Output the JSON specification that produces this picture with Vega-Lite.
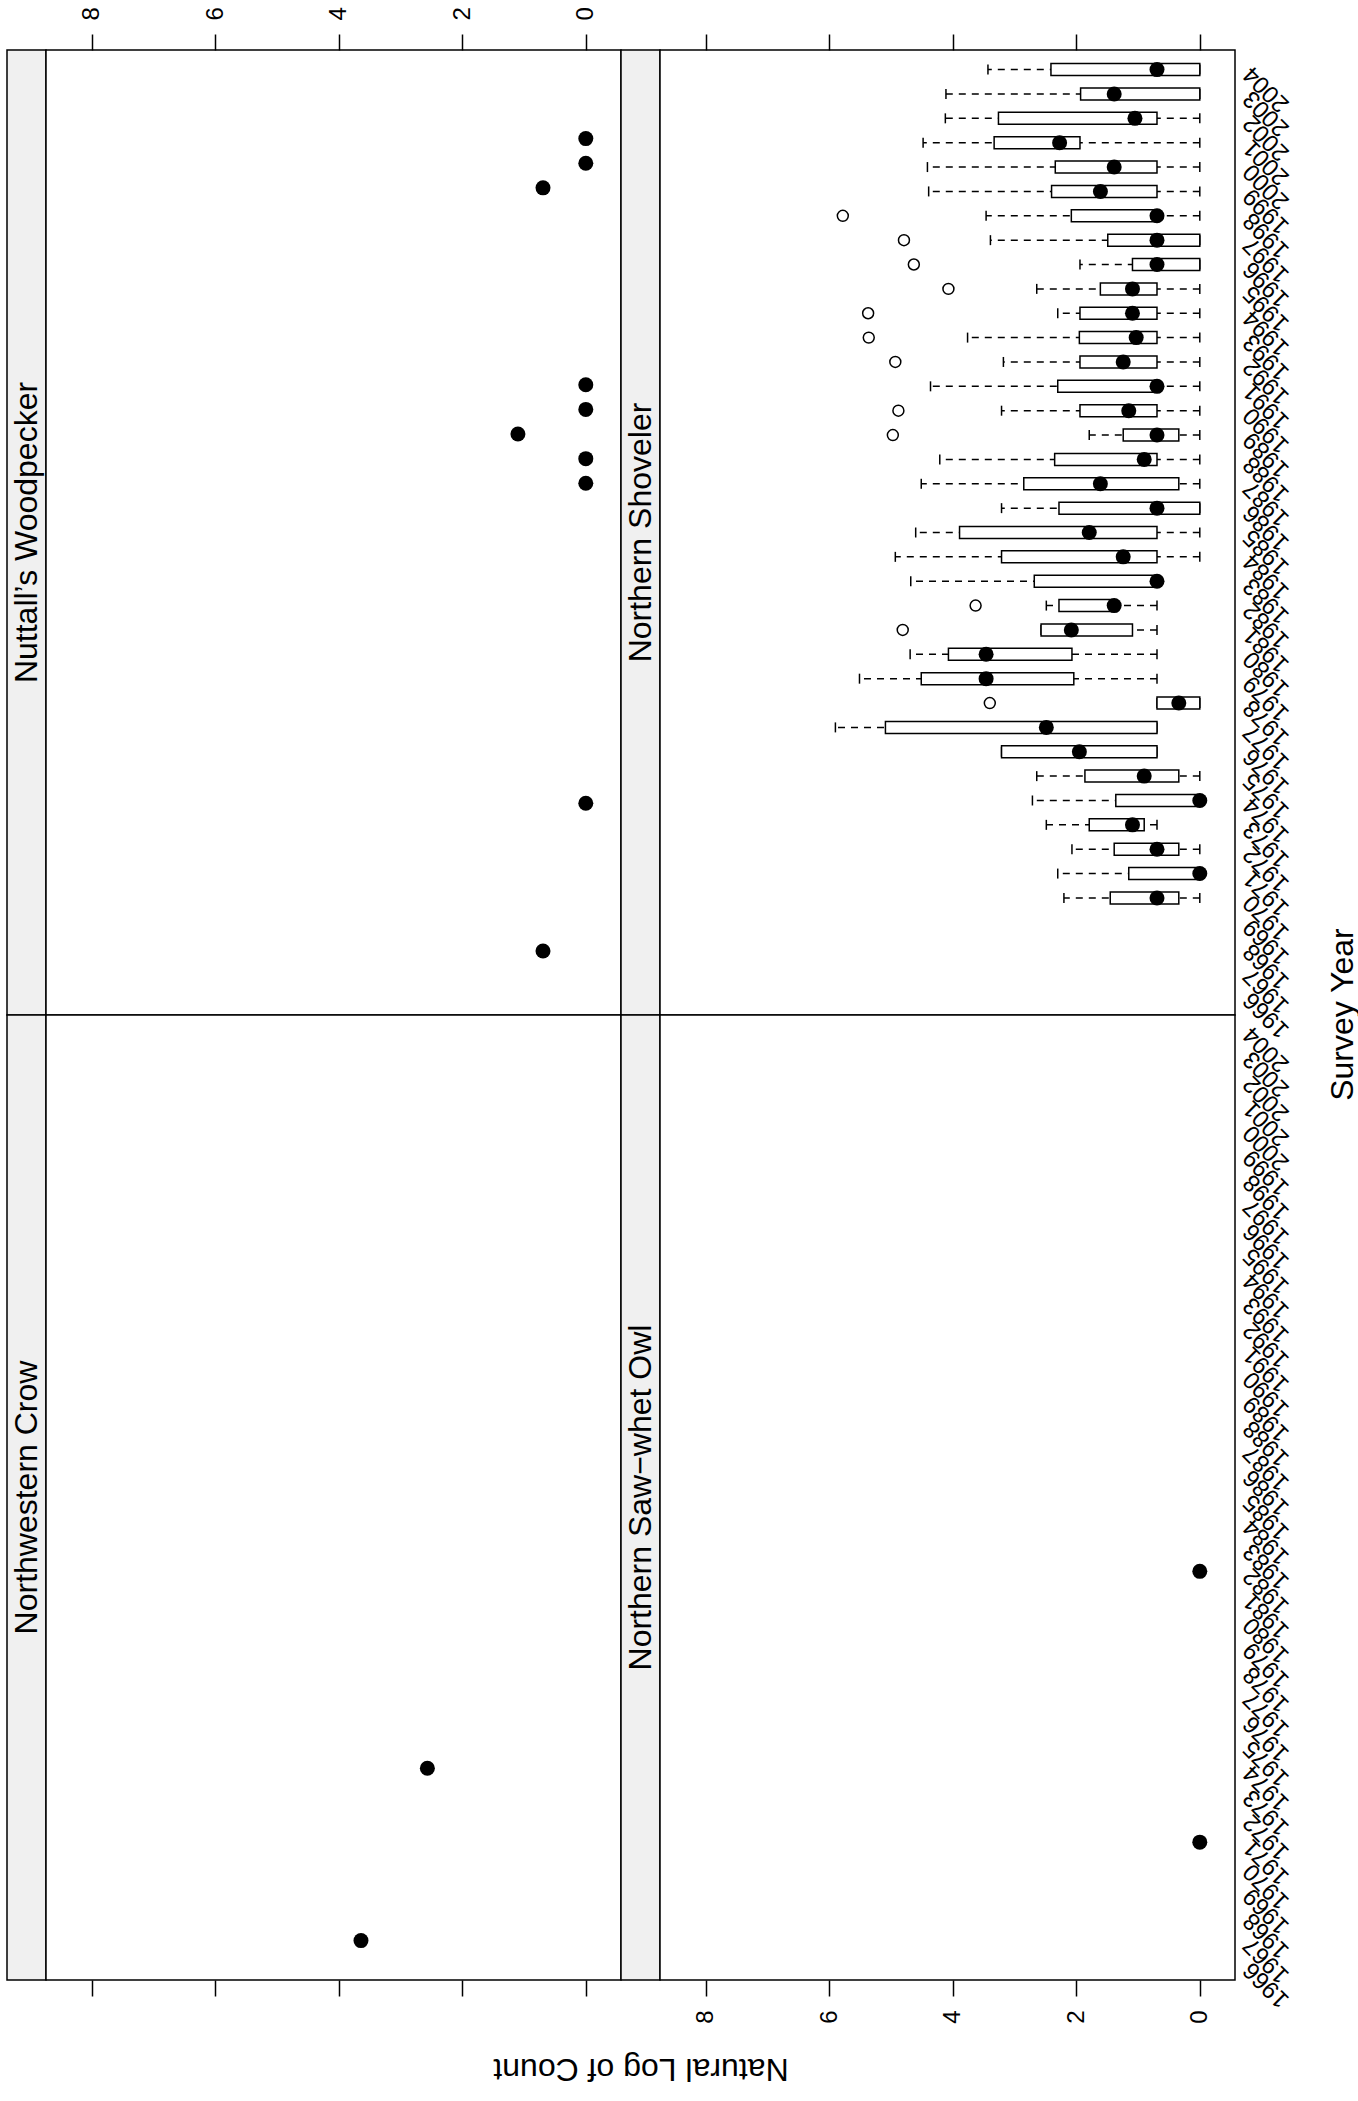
{
  "$schema": "https://vega.github.io/schema/vega-lite/v6.json",
  "padding": {"left": 6, "top": 5, "right": 0, "bottom": 14},
  "background": "white",
  "config": {
    "font": "Liberation Sans",
    "view": {"stroke": "black", "strokeWidth": 1.5, "fill": "white"},
    "axis": {"grid": false, "domain": false, "tickColor": "black", "tickWidth": 1.5, "labelColor": "black", "titleColor": "black", "labelFont": "Liberation Sans", "titleFont": "Liberation Sans", "labelFontSize": 24, "titleFontSize": 32, "titleFontWeight": "normal"}
  },
  "datasets": {
    "strips": [
      {"species": "Nuttall’s Woodpecker", "pos": "top-left"},
      {"species": "Northwestern Crow", "pos": "bottom-left"},
      {"species": "Northern Shoveler", "pos": "top-right"},
      {"species": "Northern Saw−whet Owl", "pos": "bottom-right"}
    ],
    "nuttall": [
      {"year": 2001, "logcount": 0}, {"year": 2000, "logcount": 0}, {"year": 1999, "logcount": 0.693},
      {"year": 1991, "logcount": 0}, {"year": 1990, "logcount": 0}, {"year": 1989, "logcount": 1.099},
      {"year": 1988, "logcount": 0}, {"year": 1987, "logcount": 0}, {"year": 1974, "logcount": 0},
      {"year": 1968, "logcount": 0.693}
    ],
    "crow": [
      {"year": 1967, "logcount": 3.64}, {"year": 1974, "logcount": 2.565}
    ],
    "owl": [
      {"year": 1982, "logcount": 0}, {"year": 1971, "logcount": 0}
    ],
    "shoveler": [
      {"year": 2004, "lo": 0, "q1": 0, "med": 0.693, "q3": 2.41, "hi": 3.43},
      {"year": 2003, "lo": 0, "q1": 0, "med": 1.386, "q3": 1.93, "hi": 4.11},
      {"year": 2002, "lo": 0, "q1": 0.693, "med": 1.05, "q3": 3.26, "hi": 4.12},
      {"year": 2001, "lo": 0, "q1": 1.94, "med": 2.27, "q3": 3.33, "hi": 4.48},
      {"year": 2000, "lo": 0, "q1": 0.693, "med": 1.386, "q3": 2.34, "hi": 4.41},
      {"year": 1999, "lo": 0, "q1": 0.693, "med": 1.609, "q3": 2.40, "hi": 4.39},
      {"year": 1998, "lo": 0, "q1": 0.693, "med": 0.693, "q3": 2.08, "hi": 3.46},
      {"year": 1997, "lo": 0, "q1": 0, "med": 0.693, "q3": 1.49, "hi": 3.39},
      {"year": 1996, "lo": 0, "q1": 0, "med": 0.693, "q3": 1.09, "hi": 1.94},
      {"year": 1995, "lo": 0, "q1": 0.693, "med": 1.09, "q3": 1.61, "hi": 2.64},
      {"year": 1994, "lo": 0, "q1": 0.693, "med": 1.09, "q3": 1.94, "hi": 2.30},
      {"year": 1993, "lo": 0, "q1": 0.693, "med": 1.03, "q3": 1.95, "hi": 3.76},
      {"year": 1992, "lo": 0, "q1": 0.693, "med": 1.24, "q3": 1.94, "hi": 3.18},
      {"year": 1991, "lo": 0, "q1": 0.693, "med": 0.693, "q3": 2.30, "hi": 4.36},
      {"year": 1990, "lo": 0, "q1": 0.693, "med": 1.15, "q3": 1.94, "hi": 3.21},
      {"year": 1989, "lo": 0, "q1": 0.34, "med": 0.693, "q3": 1.24, "hi": 1.79},
      {"year": 1988, "lo": 0, "q1": 0.693, "med": 0.90, "q3": 2.35, "hi": 4.21},
      {"year": 1987, "lo": 0, "q1": 0.34, "med": 1.61, "q3": 2.85, "hi": 4.51},
      {"year": 1986, "lo": 0, "q1": 0, "med": 0.693, "q3": 2.28, "hi": 3.21},
      {"year": 1985, "lo": 0, "q1": 0.693, "med": 1.79, "q3": 3.89, "hi": 4.60},
      {"year": 1984, "lo": 0, "q1": 0.693, "med": 1.24, "q3": 3.21, "hi": 4.93},
      {"year": 1983, "lo": 0.693, "q1": 0.693, "med": 0.693, "q3": 2.68, "hi": 4.68},
      {"year": 1982, "lo": 0.693, "q1": 1.386, "med": 1.386, "q3": 2.28, "hi": 2.485},
      {"year": 1981, "lo": 0.693, "q1": 1.09, "med": 2.08, "q3": 2.57, "hi": 2.57},
      {"year": 1980, "lo": 0.693, "q1": 2.07, "med": 3.46, "q3": 4.07, "hi": 4.69},
      {"year": 1979, "lo": 0.693, "q1": 2.04, "med": 3.46, "q3": 4.51, "hi": 5.51},
      {"year": 1978, "lo": 0, "q1": 0, "med": 0.34, "q3": 0.693, "hi": 0.693},
      {"year": 1977, "lo": 0.693, "q1": 0.693, "med": 2.485, "q3": 5.09, "hi": 5.90},
      {"year": 1976, "lo": 0.693, "q1": 0.693, "med": 1.95, "q3": 3.21, "hi": 3.21},
      {"year": 1975, "lo": 0, "q1": 0.34, "med": 0.90, "q3": 1.86, "hi": 2.64},
      {"year": 1974, "lo": 0, "q1": 0, "med": 0, "q3": 1.36, "hi": 2.71},
      {"year": 1973, "lo": 0.693, "q1": 0.90, "med": 1.09, "q3": 1.79, "hi": 2.485},
      {"year": 1972, "lo": 0, "q1": 0.34, "med": 0.693, "q3": 1.386, "hi": 2.07},
      {"year": 1971, "lo": 0, "q1": 0, "med": 0, "q3": 1.15, "hi": 2.30},
      {"year": 1970, "lo": 0, "q1": 0.34, "med": 0.693, "q3": 1.45, "hi": 2.20}
    ],
    "outliers": [
      {"year": 1998, "logcount": 5.78}, {"year": 1997, "logcount": 4.79}, {"year": 1996, "logcount": 4.63},
      {"year": 1995, "logcount": 4.07}, {"year": 1994, "logcount": 5.37}, {"year": 1993, "logcount": 5.36},
      {"year": 1992, "logcount": 4.93}, {"year": 1990, "logcount": 4.88}, {"year": 1989, "logcount": 4.97},
      {"year": 1982, "logcount": 3.63}, {"year": 1981, "logcount": 4.81}, {"year": 1978, "logcount": 3.40}
    ]
  },
  "columns": 4,
  "bounds": "flush",
  "align": "each",
  "spacing": 0,
  "concat": [
    {
      "width": 39, "height": 965,
      "view": {"fill": "#f0f0f0", "stroke": "black", "strokeWidth": 1.5},
      "data": {"name": "strips"},
      "transform": [{"filter": "datum.pos == 'top-left'"}],
      "mark": {"type": "text", "angle": 270, "fontSize": 32, "font": "Liberation Sans", "baseline": "middle", "align": "center", "color": "black"},
      "encoding": {"text": {"field": "species"}}
    },
    {
      "width": 575, "height": 965,
      "data": {"name": "nuttall"},
      "mark": {"type": "point", "shape": "circle", "filled": true, "color": "black", "size": 225, "opacity": 1},
      "encoding": {
        "x": {"field": "logcount", "type": "quantitative", "scale": {"domain": [-0.57, 8.74], "reverse": true, "nice": false, "zero": false},
              "axis": {"orient": "top", "values": [0, 2, 4, 6, 8], "labelAngle": -90, "labelAlign": "left", "labelBaseline": "middle", "tickSize": 16, "labelPadding": 14, "title": null}},
        "y": {"field": "year", "type": "quantitative", "scale": {"domain": [1965.4, 2004.6], "nice": false, "zero": false}, "axis": null}
      }
    },
    {
      "width": 39, "height": 965,
      "view": {"fill": "#f0f0f0", "stroke": "black", "strokeWidth": 1.5},
      "data": {"name": "strips"},
      "transform": [{"filter": "datum.pos == 'top-right'"}],
      "mark": {"type": "text", "angle": 270, "fontSize": 32, "font": "Liberation Sans", "baseline": "middle", "align": "center", "color": "black"},
      "encoding": {"text": {"field": "species"}}
    },
    {
      "width": 575, "height": 965,
      "encoding": {
        "y": {"field": "year", "type": "quantitative", "scale": {"domain": [1965.4, 2004.6], "nice": false, "zero": false},
              "axis": {"orient": "right", "values": [1966,1967,1968,1969,1970,1971,1972,1973,1974,1975,1976,1977,1978,1979,1980,1981,1982,1983,1984,1985,1986,1987,1988,1989,1990,1991,1992,1993,1994,1995,1996,1997,1998,1999,2000,2001,2002,2003,2004],
                       "format": "d", "labelAngle": -135, "labelAlign": "right", "labelBaseline": "middle", "ticks": false, "labelPadding": 12, "labelOverlap": false, "labelFlush": false, "labelBound": false,
                       "title": "Survey Year", "titleAngle": -90, "titleX": 117, "titleY": 964, "titleAlign": "center", "titleBaseline": "alphabetic"}}
      },
      "layer": [
        {
          "data": {"name": "shoveler"},
          "mark": {"type": "rule", "strokeDash": [7, 6], "strokeWidth": 1.5, "color": "black"},
          "encoding": {
            "x": {"field": "lo", "type": "quantitative", "scale": {"domain": [-0.57, 8.74], "reverse": true, "nice": false, "zero": false},
                  "axis": {"orient": "top", "values": [0, 2, 4, 6, 8], "labels": false, "tickSize": 16, "title": null}},
            "x2": {"field": "hi"}
          }
        },
        {
          "data": {"name": "shoveler"},
          "mark": {"type": "tick", "orient": "vertical", "size": 10, "thickness": 1.5, "color": "black", "opacity": 1},
          "encoding": {"x": {"field": "lo", "type": "quantitative", "scale": {"domain": [-0.57, 8.74], "reverse": true, "nice": false, "zero": false}}}
        },
        {
          "data": {"name": "shoveler"},
          "mark": {"type": "tick", "orient": "vertical", "size": 10, "thickness": 1.5, "color": "black", "opacity": 1},
          "encoding": {"x": {"field": "hi", "type": "quantitative", "scale": {"domain": [-0.57, 8.74], "reverse": true, "nice": false, "zero": false}}}
        },
        {
          "data": {"name": "shoveler"},
          "mark": {"type": "bar", "orient": "horizontal", "size": 12, "fill": "white", "stroke": "black", "strokeWidth": 1.5, "opacity": 1},
          "encoding": {
            "x": {"field": "q1", "type": "quantitative", "scale": {"domain": [-0.57, 8.74], "reverse": true, "nice": false, "zero": false}},
            "x2": {"field": "q3"}
          }
        },
        {
          "data": {"name": "shoveler"},
          "mark": {"type": "point", "shape": "circle", "filled": true, "color": "black", "size": 225, "opacity": 1},
          "encoding": {"x": {"field": "med", "type": "quantitative", "scale": {"domain": [-0.57, 8.74], "reverse": true, "nice": false, "zero": false}}}
        },
        {
          "data": {"name": "outliers"},
          "mark": {"type": "point", "shape": "circle", "filled": false, "color": "black", "strokeWidth": 1.5, "size": 120, "opacity": 1},
          "encoding": {"x": {"field": "logcount", "type": "quantitative", "scale": {"domain": [-0.57, 8.74], "reverse": true, "nice": false, "zero": false}}}
        }
      ]
    },
    {
      "width": 39, "height": 965,
      "view": {"fill": "#f0f0f0", "stroke": "black", "strokeWidth": 1.5},
      "data": {"name": "strips"},
      "transform": [{"filter": "datum.pos == 'bottom-left'"}],
      "mark": {"type": "text", "angle": 270, "fontSize": 32, "font": "Liberation Sans", "baseline": "middle", "align": "center", "color": "black"},
      "encoding": {"text": {"field": "species"}}
    },
    {
      "width": 575, "height": 965,
      "data": {"name": "crow"},
      "mark": {"type": "point", "shape": "circle", "filled": true, "color": "black", "size": 225, "opacity": 1},
      "encoding": {
        "x": {"field": "logcount", "type": "quantitative", "scale": {"domain": [-0.57, 8.74], "reverse": true, "nice": false, "zero": false},
              "axis": {"orient": "bottom", "values": [0, 2, 4, 6, 8], "labels": false, "tickSize": 16, "title": null}},
        "y": {"field": "year", "type": "quantitative", "scale": {"domain": [1965.4, 2004.6], "nice": false, "zero": false}, "axis": null}
      }
    },
    {
      "width": 39, "height": 965,
      "view": {"fill": "#f0f0f0", "stroke": "black", "strokeWidth": 1.5},
      "data": {"name": "strips"},
      "transform": [{"filter": "datum.pos == 'bottom-right'"}],
      "mark": {"type": "text", "angle": 270, "fontSize": 32, "font": "Liberation Sans", "baseline": "middle", "align": "center", "color": "black"},
      "encoding": {"text": {"field": "species"}}
    },
    {
      "width": 575, "height": 965,
      "data": {"name": "owl"},
      "mark": {"type": "point", "shape": "circle", "filled": true, "color": "black", "size": 225, "opacity": 1},
      "encoding": {
        "x": {"field": "logcount", "type": "quantitative", "scale": {"domain": [-0.57, 8.74], "reverse": true, "nice": false, "zero": false},
              "axis": {"orient": "bottom", "values": [0, 2, 4, 6, 8], "labelAngle": -90, "labelAlign": "right", "labelBaseline": "middle", "tickSize": 16, "labelPadding": 14,
                       "title": "Natural Log of Count", "titleAngle": 180, "titleX": -19.5, "titleY": 88, "titleAlign": "center", "titleBaseline": "middle"}},
        "y": {"field": "year", "type": "quantitative", "scale": {"domain": [1965.4, 2004.6], "nice": false, "zero": false},
              "axis": {"orient": "right", "values": [1966,1967,1968,1969,1970,1971,1972,1973,1974,1975,1976,1977,1978,1979,1980,1981,1982,1983,1984,1985,1986,1987,1988,1989,1990,1991,1992,1993,1994,1995,1996,1997,1998,1999,2000,2001,2002,2003,2004],
                       "format": "d", "labelAngle": -135, "labelAlign": "right", "labelBaseline": "middle", "ticks": false, "labelPadding": 12, "labelOverlap": false, "labelFlush": false, "labelBound": false, "title": null}}
      }
    }
  ]
}
